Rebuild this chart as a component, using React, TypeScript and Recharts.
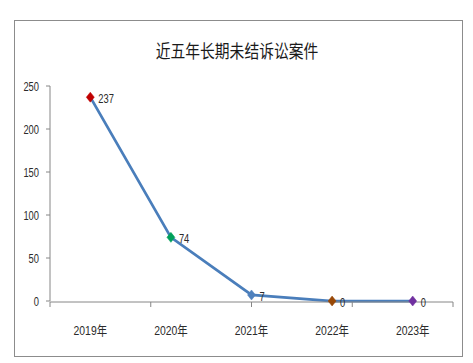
import React from 'react';
import { LineChart, Line, XAxis, YAxis, LabelList } from 'recharts';

const title = '近五年长期未结诉讼案件';
const years = ['2019年', '2020年', '2021年', '2022年', '2023年'];
const cases = [237, 74, 7, 0, 0];
const markerColors = ['#C00000', '#00A05A', '#4F81BD', '#984807', '#7030A0'];
const yTicks = [0, 50, 100, 150, 200, 250];
const boundaryTicks = [0, 1, 2, 3, 4, 5];

const data = years.map((y, i) => ({ year: y, value: cases[i] }));

const FONT = "'Liberation Sans', 'Noto Sans CJK SC', sans-serif";
const SX = 0.72;

const Diamond = (props: any) => {
  const { cx, cy, index } = props;
  if (cx == null || cy == null) return null;
  const c = markerColors[index % markerColors.length];
  return (
    <path
      key={'d' + index}
      d={`M${cx},${cy - 5} L${cx + 4},${cy} L${cx},${cy + 5} L${cx - 4},${cy} Z`}
      fill={c}
      stroke={c}
      strokeWidth={0.5}
    />
  );
};

const YTick = (props: any) => {
  const { x, y, payload } = props;
  return (
    <g transform={`translate(${x - 5},${y}) scale(${SX},1)`}>
      <text x={0} y={0} dy="0.35em" textAnchor="end" fontSize={13} fill="#2b2b2b" fontFamily={FONT}>
        {payload.value}
      </text>
    </g>
  );
};

const XTick = (props: any) => {
  const { x, y, payload } = props;
  return (
    <g transform={`translate(${x},${y + 23}) scale(0.8,1)`}>
      <text x={0} y={0} dy="0.35em" textAnchor="middle" fontSize={13} fill="#2b2b2b" fontFamily={FONT}>
        {payload.value}
      </text>
    </g>
  );
};

const PointLabel = (props: any) => {
  const { x, y, value } = props;
  return (
    <g transform={`translate(${x + 8},${y + 1}) scale(${SX},1)`}>
      <text x={0} y={0} dy="0.35em" textAnchor="start" fontSize={13} fill="#2b2b2b" fontFamily={FONT}>
        {value}
      </text>
    </g>
  );
};

export default function App() {
  return (
    <div style={{ position: 'absolute', left: 0, top: 0, width: 473, height: 363, background: '#fff' }}>
      <div
        style={{
          position: 'absolute',
          left: 14,
          top: 20,
          width: 449,
          height: 337,
          border: '1px solid #8C8C8C',
          boxSizing: 'border-box',
        }}
      />
      <div
        style={{
          position: 'absolute',
          left: 0,
          width: 473,
          top: 39,
          textAlign: 'center',
          fontFamily: "'Noto Sans CJK SC', sans-serif",
          fontSize: 18,
          lineHeight: '22px',
          color: '#1a1a1a',
        }}
      >
        <span style={{ display: 'inline-block', transform: 'scaleX(0.82)' }}>{title}</span>
      </div>
      <div style={{ position: 'absolute', left: 0, top: 0 }}>
        <LineChart width={473} height={363} data={data} margin={{ top: 86, right: 20, bottom: 60, left: 10 }}>
          <XAxis
            xAxisId="grid"
            type="number"
            domain={[0, 5]}
            ticks={boundaryTicks}
            tick={() => <g />}
            height={1}
            stroke="#868686"
            tickSize={5}
            allowDataOverflow
          />
          <XAxis
            xAxisId="cat"
            dataKey="year"
            scale="band"
            height={1}
            axisLine={false}
            tickLine={false}
            tickMargin={0}
            tick={<XTick />}
            interval={0}
          />
          <YAxis
            domain={[0, 250]}
            ticks={yTicks}
            width={40}
            stroke="#868686"
            tickSize={4}
            tick={<YTick />}
          />
          <Line
            xAxisId="cat"
            dataKey="value"
            stroke="#4A7EBB"
            strokeWidth={2.75}
            isAnimationActive={false}
            dot={<Diamond />}
            activeDot={false}
          >
            <LabelList dataKey="value" content={<PointLabel />} />
          </Line>
        </LineChart>
      </div>
    </div>
  );
}
